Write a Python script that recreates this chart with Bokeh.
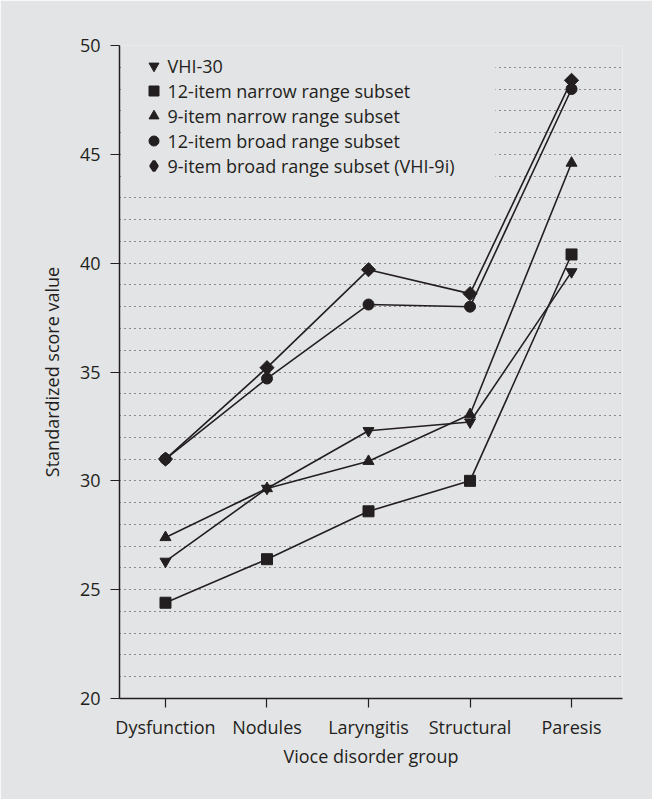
import math
from bokeh.plotting import figure
from bokeh.models import (Range1d, FixedTicker, SingleIntervalTicker, Legend, LegendItem,
                          BoxAnnotation)
from bokeh.embed import file_html
from bokeh.resources import INLINE

categories = ["Dysfunction", "Nodules", "Laryngitis", "Structural", "Paresis"]
series_names = [
    "VHI-30",
    "12-item narrow range subset",
    "9-item narrow range subset",
    "12-item broad range subset",
    "9-item broad range subset (VHI-9i)",
]
vhi30 = [26.3, 29.65, 32.3, 32.7, 39.6]
narrow12 = [24.4, 26.4, 28.6, 30.0, 40.4]
narrow9 = [27.4, 29.65, 30.9, 33.05, 44.6]
broad12 = [31.0, 34.7, 38.1, 38.0, 48.0]
broad9 = [31.0, 35.2, 39.7, 38.6, 48.4]
y_ticks = [20, 25, 30, 35, 40, 45, 50]

INK = "#231f20"
BG = "#e3e4e6"
FONT = "Open Sans"
FS = "18px"

x = list(range(len(categories)))

p = figure(width=652, height=799, output_backend="svg", toolbar_location=None,
           x_range=Range1d(-0.453, 4.502), y_range=Range1d(20, 50),
           min_border_left=119, min_border_right=30, min_border_top=45, min_border_bottom=101)
p.background_fill_color = BG
p.border_fill_color = BG
p.outline_line_color = None

# axes
p.xaxis.ticker = FixedTicker(ticks=x)
p.xaxis.major_label_overrides = {i: c for i, c in enumerate(categories)}
p.yaxis.ticker = FixedTicker(ticks=y_ticks)
for ax in (p.xaxis[0], p.yaxis[0]):
    ax.axis_line_color = INK
    ax.axis_line_width = 1.5
    ax.major_tick_line_color = INK
    ax.major_tick_line_width = 1.2
    ax.major_tick_out = 9
    ax.major_tick_in = 0
    ax.minor_tick_line_color = None
    ax.major_label_text_font = FONT
    ax.major_label_text_font_size = FS
    ax.major_label_text_color = INK
    ax.axis_label_text_font = FONT
    ax.axis_label_text_font_size = FS
    ax.axis_label_text_font_style = "normal"
    ax.axis_label_text_color = INK
p.xaxis.axis_label = "Vioce disorder group"
p.yaxis.axis_label = "Standardized score value"
p.xaxis.major_label_standoff = 7
p.yaxis.major_label_standoff = 10
p.xaxis.axis_label_standoff = 2
p.yaxis.axis_label_standoff = 13

# grid
p.xgrid.grid_line_color = None
p.ygrid.ticker = SingleIntervalTicker(interval=1)
p.ygrid.grid_line_color = "#333333"
p.ygrid.grid_line_width = 1
p.ygrid.grid_line_dash = "1 4"

# mask the gridlines behind the legend (kept clear of the y axis line)
mask = BoxAnnotation(left=-0.435, right=3.25, bottom=43.5, top=49.5,
                     fill_color=BG, fill_alpha=1.0, line_color=None)
p.add_layout(mask)

data = [vhi30, narrow12, narrow9, broad12, broad9]
markers = ["inverted_triangle", "square", "triangle", "circle", "square"]
legend_markers = ["inverted_triangle", "square", "triangle", "circle", "diamond"]
sizes = [11, 11, 11, 11, 10]
angles = [0, 0, 0, 0, math.pi / 4]

items = []
for name, vals, mk, lmk, sz, ang in zip(series_names, data, markers, legend_markers, sizes, angles):
    p.line(x, vals, line_color=INK, line_width=1.6)
    r = p.scatter(x, vals, marker=mk, size=sz, angle=ang, fill_color=INK, line_color=INK)
    if lmk != mk:
        # hidden twin renderer, used only so that the legend shows a diamond
        r = p.scatter(x, vals, marker=lmk, fill_color=INK, line_color=INK,
                      line_width=3, visible=False)
    items.append(LegendItem(label=name, renderers=[r]))

legend = Legend(items=items, location=(21.5, 520), orientation="vertical",
                background_fill_color=BG, background_fill_alpha=1.0,
                border_line_color=None, padding=6, margin=0, spacing=0,
                glyph_width=25, glyph_height=25, label_height=25, label_standoff=2,
                label_text_font=FONT, label_text_font_size=FS, label_text_color=INK)
p.add_layout(legend, "center")

open("out.html", "w").write(file_html(p, INLINE))
